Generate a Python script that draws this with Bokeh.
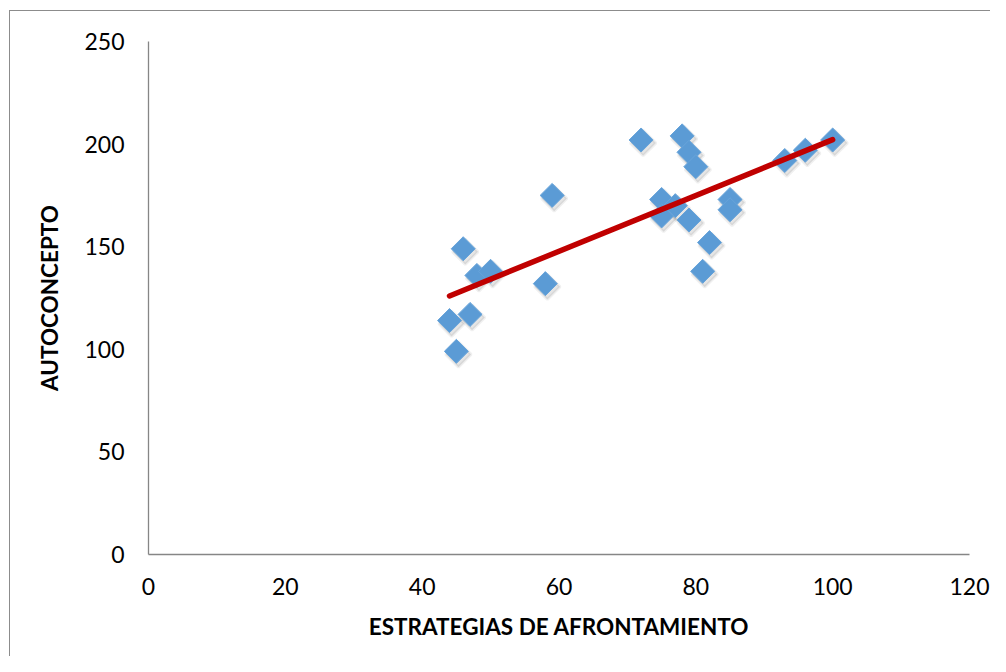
import numpy as np
from bokeh.plotting import figure
from bokeh.embed import file_html
from bokeh.resources import INLINE
from bokeh.models import Range1d, FixedTicker

# Data
estrategias = [44, 45, 46, 47, 48, 50, 58, 59, 72, 78, 79, 80, 75, 75, 77, 79, 82, 81, 85, 85, 93, 96, 100]
autoconcepto = [114, 99, 149, 117, 136, 138, 132, 175, 202, 204, 196, 189, 173, 165, 170, 163, 152, 138, 173, 168, 192, 197, 202]
x_ticks = [0, 20, 40, 60, 80, 100, 120]
y_ticks = [0, 50, 100, 150, 200, 250]

x = np.array(estrategias, dtype=float)
y = np.array(autoconcepto, dtype=float)
slope, intercept = np.polyfit(x, y, 1)
tx = np.array([x.min(), x.max()])
ty = slope * tx + intercept

p = figure(width=990, height=656, output_backend="svg", toolbar_location=None,
           x_range=Range1d(0, 120), y_range=Range1d(0, 250),
           min_border_left=148, min_border_right=21, min_border_top=41, min_border_bottom=102)
p.border_fill_color = None
p.background_fill_color = "white"
p.styles = {
    "background": "linear-gradient(#8c8c8c,#8c8c8c) 9px 10px / 1px 100% no-repeat, "
                  "linear-gradient(#8c8c8c,#8c8c8c) 9px 10px / 100% 1px no-repeat, white"
}
p.outline_line_color = None
p.xgrid.visible = False
p.ygrid.visible = False

# soft shadow
p.scatter(x + 0.3, y - 1.5, marker="square", size=18, angle=np.pi / 4,
          fill_color="#000000", fill_alpha=0.10, line_color="#000000", line_alpha=0.06,
          line_width=3)
p.scatter(x, y, marker="square", size=17, angle=np.pi / 4,
          fill_color="#5B9BD5", line_color="#68A4DA", line_width=1)
p.line(tx, ty, line_color="#C00000", line_width=5.5, line_cap="round")

for ax in (p.xaxis[0], p.yaxis[0]):
    ax.axis_line_color = "#868686"
    ax.axis_line_width = 1.3
    ax.major_tick_line_color = None
    ax.minor_tick_line_color = None
    ax.major_label_text_font = "Lato"
    ax.major_label_text_font_size = "23px"
    ax.major_label_text_color = "#000000"
    ax.axis_label_text_font = "Lato"
    ax.axis_label_text_font_style = "bold"
    ax.axis_label_text_font_size = "22.5px"
    ax.axis_label_text_color = "#000000"

p.xaxis[0].ticker = FixedTicker(ticks=x_ticks)
p.yaxis[0].ticker = FixedTicker(ticks=y_ticks)
p.xaxis[0].major_label_standoff = 17
p.yaxis[0].major_label_standoff = 18
p.xaxis[0].axis_label = "ESTRATEGIAS DE AFRONTAMIENTO"
p.yaxis[0].axis_label = "AUTOCONCEPTO"
p.xaxis[0].axis_label_standoff = 15
p.yaxis[0].axis_label_standoff = 18

open("out.html", "w").write(file_html(p, INLINE))
